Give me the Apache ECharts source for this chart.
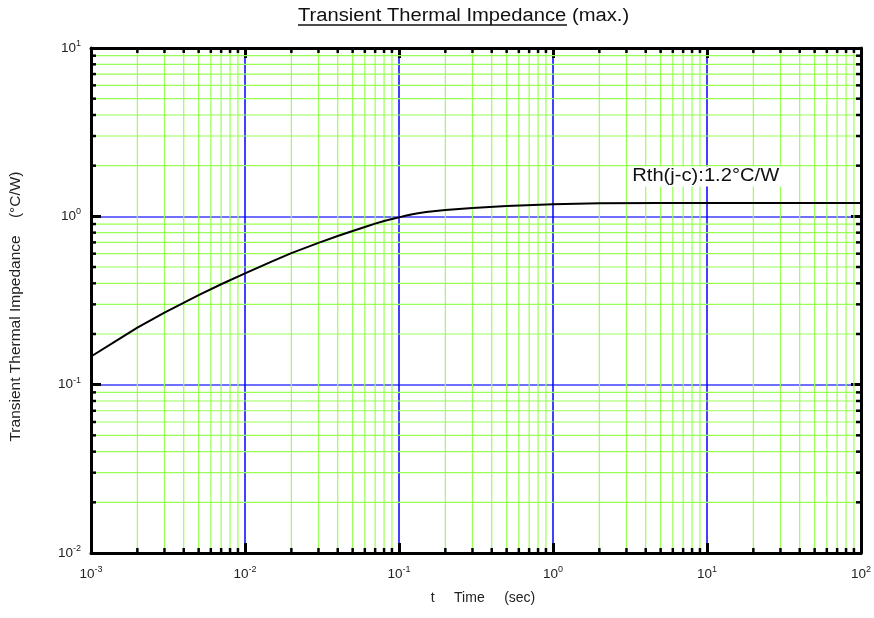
<!DOCTYPE html>
<html>
<head>
<meta charset="utf-8">
<script src="https://cdn.jsdelivr.net/npm/echarts@6/dist/echarts.min.js"></script>
<style>
html,body{margin:0;padding:0;background:#fff;}
#main{width:874px;height:618px;}
</style>
</head>
<body>
<div id="main"></div>
<script>
// Data
const timeSec = [0.001,0.0015,0.002,0.003,0.005,0.007,0.01,0.015,0.02,0.03,0.04,0.05,0.06,0.07,0.08,0.09,0.1,0.11,0.12,0.13,0.15,0.2,0.3,0.5,1,2,5,10,100];
const zth = [0.147,0.185,0.218,0.268,0.34,0.395,0.458,0.54,0.605,0.695,0.764,0.818,0.864,0.905,0.938,0.964,0.986,1.007,1.025,1.04,1.06,1.09,1.12,1.15,1.18,1.195,1.2,1.2,1.2];
const xDecades = [0.001,0.01,0.1,1,10];
const yDecades = [0.01,0.1,1];
const minorMult = [2,3,4,5,6,7,8,9];
const xMin = 0.001, xMax = 100, yMin = 0.01, yMax = 10;
const titleMain = 'Transient Thermal Impedance';
const titleSuffix = '(max.)';
const yName = 'Transient Thermal Impedance    (°C/W)';
const xName = 't     Time     (sec)';
const noteText = 'Rth(j-c):1.2°C/W';

const minorX = [];
xDecades.forEach(d => minorMult.forEach(m => minorX.push([+(d*m).toPrecision(6), 1])));
const minorY = [];
yDecades.forEach(d => minorMult.forEach(m => minorY.push([1, +(d*m).toPrecision(6)])));

const green = '#99ff55';
const font = 'Arial, "Liberation Sans", sans-serif';

function expLabel(v){
  const e = Math.round(Math.log10(v));
  return '{b|10}{s|' + e + '}';
}
const rich = {
  b: {fontSize: 13.5, color: '#222', fontFamily: font},
  s: {fontSize: 9, color: '#222', fontFamily: font, padding: [0,0,9,0]}
};

function minorRender(vertical){
  return function(params, api){
    const v = api.value(vertical ? 0 : 1);
    let p1, p2;
    if (vertical){ p1 = api.coord([v, yMin]); p2 = api.coord([v, yMax]); }
    else { p1 = api.coord([xMin, v]); p2 = api.coord([xMax, v]); }
    const tick = 5;
    const children = [
      {type:'line', shape:{x1:p1[0],y1:p1[1],x2:p2[0],y2:p2[1]}, style:{stroke:green, lineWidth:1.2}},
    ];
    if (vertical){
      children.push({type:'line', shape:{x1:p1[0],y1:p1[1],x2:p1[0],y2:p1[1]-tick}, style:{stroke:'#000', lineWidth:2.5}});
      children.push({type:'line', shape:{x1:p2[0],y1:p2[1],x2:p2[0],y2:p2[1]+tick}, style:{stroke:'#000', lineWidth:2.5}});
    } else {
      children.push({type:'line', shape:{x1:p1[0],y1:p1[1],x2:p1[0]+tick,y2:p1[1]}, style:{stroke:'#000', lineWidth:2.5}});
      children.push({type:'line', shape:{x1:p2[0],y1:p2[1],x2:p2[0]-tick,y2:p2[1]}, style:{stroke:'#000', lineWidth:2.5}});
    }
    return {type:'group', children};
  };
}

const chart = echarts.init(document.getElementById('main'), null, {renderer:'canvas'});
const axisCommonX = {
  type:'log', logBase:10, min:xMin, max:xMax,
  axisLine:{show:true, onZero:false, lineStyle:{color:'#000', width:3}},
  axisTick:{show:true, inside:true, length:10, lineStyle:{color:'#000', width:3}},
  minorTick:{show:false}, minorSplitLine:{show:false}
};
const axisCommonY = {
  type:'log', logBase:10, min:yMin, max:yMax,
  axisLine:{show:true, onZero:false, lineStyle:{color:'#000', width:3}},
  axisTick:{show:true, inside:true, length:10, lineStyle:{color:'#000', width:3}},
  minorTick:{show:false}, minorSplitLine:{show:false}
};

chart.setOption({
  animation:false,
  backgroundColor:'#fff',
  grid:{left:90, right:12, top:48, bottom:65, containLabel:false},
  xAxis:[
    Object.assign({}, axisCommonX, {
      position:'bottom',
      name:xName, nameLocation:'middle', nameGap:38,
      nameTextStyle:{fontSize:14, color:'#222', fontFamily:font, padding:[0,0,0,14]},
      axisLabel:{show:true, margin:12, formatter:expLabel, rich},
      splitLine:{show:true, lineStyle:{color:'#0000ff', width:1.5}}
    }),
    Object.assign({}, axisCommonX, {
      position:'top', axisLabel:{show:false}, splitLine:{show:false}
    })
  ],
  yAxis:[
    Object.assign({}, axisCommonY, {
      position:'left',
      name:yName, nameLocation:'middle', nameGap:67, nameRotate:90,
      nameTextStyle:{fontSize:15.5, color:'#222', fontFamily:font, padding:[0,0,0,-12]},
      axisLabel:{show:true, margin:10, formatter:expLabel, rich},
      splitLine:{show:true, lineStyle:{color:'#6f6fff', width:2}}
    }),
    Object.assign({}, axisCommonY, {
      position:'right', axisLabel:{show:false}, splitLine:{show:false}
    })
  ],
  series:[
    {type:'custom', xAxisIndex:0, yAxisIndex:0, data:minorX, renderItem:minorRender(true), z:1, silent:true, clip:false},
    {type:'custom', xAxisIndex:0, yAxisIndex:0, data:minorY, renderItem:minorRender(false), z:1, silent:true, clip:false},
    {type:'line', xAxisIndex:0, yAxisIndex:0, data:timeSec.map((t,i)=>[t, zth[i]]),
     showSymbol:false, smooth:false,
     lineStyle:{color:'#000', width:2}, z:5}
  ],
  graphic:[
    {type:'text', x:298, y:16.5, scaleX:1.12, z:10, style:{text:titleMain, x:0, y:0, align:'left', verticalAlign:'middle', fontSize:18, fill:'#111', fontFamily:font}},
    {type:'text', x:572, y:16.5, scaleX:1.12, z:10, style:{text:titleSuffix, x:0, y:0, align:'left', verticalAlign:'middle', fontSize:18, fill:'#111', fontFamily:font}},
    {type:'line', z:10, shape:{x1:298, y1:25, x2:567, y2:25}, style:{stroke:'#111', lineWidth:1.5}},
    {type:'text', x:630, y:176.5, scaleX:1.12, z:10, style:{text:noteText, x:0, y:0, align:'left', verticalAlign:'middle', fontSize:18, fill:'#111', fontFamily:font, backgroundColor:'#fff', padding:[1,2]}}
  ]
});
</script>
</body>
</html>
